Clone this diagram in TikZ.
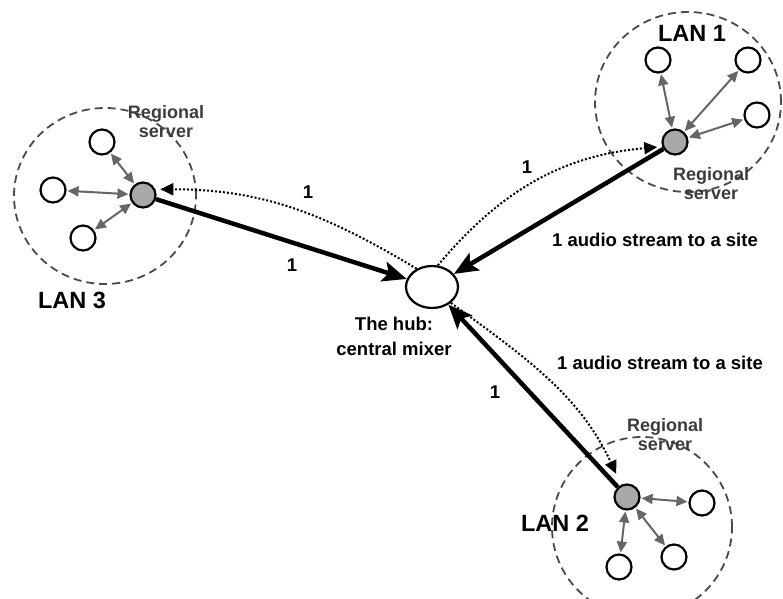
\documentclass[tikz,border=0pt]{standalone}
\usepackage{fontspec}
\setmainfont{Liberation Sans}
\usetikzlibrary{arrows.meta,shapes.geometric}
\definecolor{ringgray}{HTML}{4A4A4A}
\definecolor{linkgray}{HTML}{666666}
\definecolor{srvfill}{HTML}{A9A9A9}
\definecolor{lblgray}{HTML}{3C3C3C}

\begin{document}
\begin{tikzpicture}[x=1pt,y=1pt,
  client/.style={circle,draw=black,line width=2.2pt,fill=white,minimum size=25pt,inner sep=0pt},
  server/.style={client,fill=srvfill},
  hubnode/.style={ellipse,draw=black,line width=2.2pt,fill=white,minimum width=52pt,minimum height=42pt,inner sep=0pt},
  ring/.style={ellipse,draw=ringgray,line width=1.8pt,dash pattern=on 8pt off 5pt,inner sep=0pt},
  lanlink/.style={draw=linkgray,line width=2pt,{Triangle[length=11pt,width=10pt]}-{Triangle[length=11pt,width=10pt]},shorten <=1pt,shorten >=1pt},
  trunk/.style={draw=black,line width=4.5pt,-{Stealth[length=24pt,width=20pt,inset=5pt]}},
  feed/.style={draw=black,line width=2pt,dash pattern=on 2pt off 2pt,-{Triangle[length=13pt,width=12pt]}},
  lbl/.style={font=\fontsize{18.5}{22}\selectfont\bfseries,text=black,inner sep=0pt},
  lanlbl/.style={font=\fontsize{23.5}{27}\selectfont\bfseries,text=black,inner sep=0pt},
  srvlbl/.style={font=\fontsize{18}{19}\selectfont\bfseries,text=lblgray,align=center,inner sep=0pt},
]
\useasboundingbox (0,0) rectangle (783,598);

% LAN boundaries
\node[ring,minimum width=182pt,minimum height=176pt] (ring3) at (105,402) {};
\node[ring,minimum width=186pt,minimum height=180pt] (ring1) at (688,496) {};
\node[ring,minimum width=180pt,minimum height=180pt] (ring2) at (642,71) {};

% central mixer
\node[hubnode] (hub) at (432,311) {};
\node[lbl,align=center,font=\fontsize{18.5}{25}\selectfont\bfseries] (hubtxt) at (394,262) {The hub:\\central mixer};

% LAN 3
\node[server] (srv3) at (143,403) {};
\node[client] (c31) at (102,456) {};
\node[client] (c32) at (53,408) {};
\node[client] (c33) at (83,360) {};
\node[lanlbl] (lan3) at (72,298) {LAN 3};
\node[srvlbl] (reg3) at (166,476) {Regional\\server};

% LAN 1
\node[server] (srv1) at (675,456) {};
\node[client] (c11) at (658,538) {};
\node[client] (c12) at (748,538) {};
\node[client] (c13) at (757,483) {};
\node[lanlbl] (lan1) at (692,565) {LAN 1};
\node[srvlbl] (reg1) at (711,414) {Regional\\server};

% LAN 2
\node[server] (srv2) at (627,101) {};
\node[client] (c21) at (702,95) {};
\node[client] (c22) at (674,41) {};
\node[client] (c23) at (619,31) {};
\node[lanlbl] (lan2) at (555,75) {LAN 2};
\node[srvlbl] (reg2) at (665,163) {Regional\\server};

% local links inside each LAN
\draw[lanlink] (c31) -- (srv3);
\draw[lanlink] (c32) -- (srv3);
\draw[lanlink] (c33) -- (srv3);
\draw[lanlink] (c11) -- (srv1);
\draw[lanlink] (c12) -- (srv1);
\draw[lanlink] (c13) -- (srv1);
\draw[lanlink] (c21) -- (srv2);
\draw[lanlink] (c22) -- (srv2);
\draw[lanlink] (c23) -- (srv2);

% upstream: one stream from each regional server to the hub
\draw[trunk] (srv3) -- (hub);
\draw[trunk] (srv1) -- (hub);
\draw[trunk] (srv2) -- (hub);

% downstream: mixed stream back to each site
\draw[feed,shorten >=5pt] (hub.130) to[out=149,in=0] (srv3.25);
\draw[feed,shorten >=5pt] (hub.75) to[out=50,in=185] (srv1.200);
\draw[feed,shorten >=12pt] (hub.-40) to[out=-36,in=115] (srv2.115);

% stream labels
\node[lbl] (n3a) at (308,406) {1};
\node[lbl] (n3b) at (292,333) {1};
\node[lbl] (n1a) at (527,431) {1};
\node[lbl] (n1b) at (655,358) {1 audio stream to a site};
\node[lbl] (n2a) at (660,235) {1 audio stream to a site};
\node[lbl] (n2b) at (495,206) {1};
\end{tikzpicture}
\end{document}
